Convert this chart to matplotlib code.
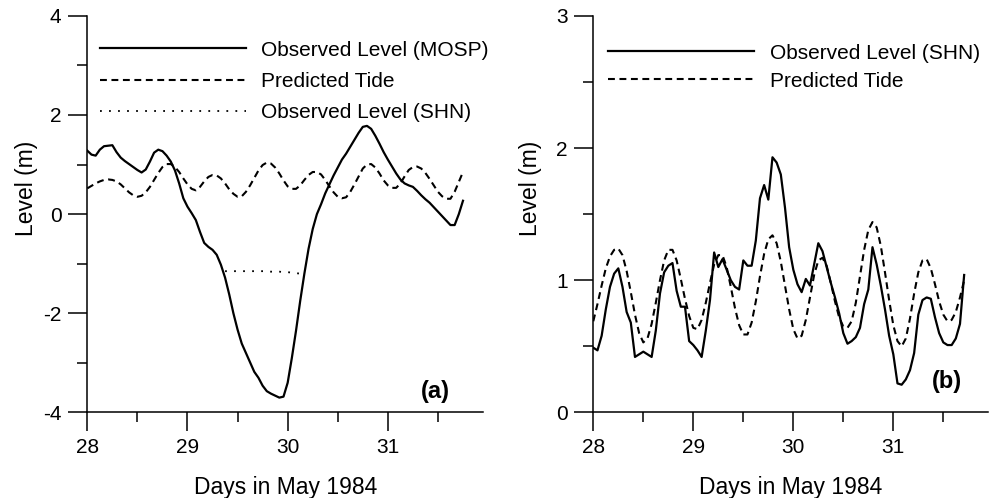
import numpy as np
import matplotlib
matplotlib.use("Agg")
import matplotlib.pyplot as plt
from matplotlib.ticker import MultipleLocator

plt.rcParams['font.family'] = ['Liberation Sans', 'DejaVu Sans']
plt.rcParams['axes.unicode_minus'] = False

# hourly samples starting 28 May 1984 00:00
# (a) MOSP station
mosp_obs = [1.28, 1.20, 1.18, 1.30, 1.37, 1.38, 1.39, 1.25, 1.14, 1.07,
            1.01, 0.95, 0.89, 0.84, 0.90, 1.06, 1.24, 1.30, 1.27, 1.18,
            1.06, 0.88, 0.62, 0.32, 0.15, 0.02, -0.12, -0.36, -0.58, -0.66,
            -0.72, -0.82, -1.02, -1.28, -1.62, -2.00, -2.33, -2.61, -2.80, -2.99,
            -3.18, -3.30, -3.46, -3.57, -3.62, -3.66, -3.70, -3.68, -3.40, -2.90,
            -2.35, -1.75, -1.20, -0.70, -0.30, 0.00, 0.20, 0.42, 0.60, 0.78,
            0.94, 1.10, 1.22, 1.36, 1.50, 1.64, 1.76, 1.78, 1.72, 1.58,
            1.42, 1.25, 1.10, 0.96, 0.82, 0.70, 0.62, 0.58, 0.55, 0.47,
            0.38, 0.30, 0.23, 0.14, 0.05, -0.04, -0.13, -0.22, -0.22, 0.00,
            0.27]
mosp_tide = [0.52, 0.57, 0.62, 0.66, 0.69, 0.70, 0.69, 0.66, 0.60, 0.52,
             0.44, 0.38, 0.35, 0.37, 0.44, 0.55, 0.69, 0.83, 0.95, 1.01,
             1.01, 0.95, 0.85, 0.72, 0.60, 0.51, 0.48, 0.55, 0.66, 0.75,
             0.79, 0.78, 0.72, 0.62, 0.50, 0.41, 0.35, 0.36, 0.45, 0.58,
             0.73, 0.88, 0.99, 1.04, 1.02, 0.94, 0.82, 0.68, 0.56, 0.51,
             0.51, 0.58, 0.69, 0.79, 0.85, 0.85, 0.80, 0.69, 0.56, 0.44,
             0.35, 0.32, 0.34, 0.45, 0.60, 0.76, 0.92, 1.00, 1.01, 0.94,
             0.82, 0.68, 0.58, 0.53, 0.53, 0.62, 0.76, 0.89, 0.95, 0.96,
             0.92, 0.83, 0.71, 0.58, 0.45, 0.36, 0.31, 0.31, 0.45, 0.65,
             0.85]
# SHN level shown on (a) only while MOSP gauge was below it
shn_start = 33  # hour index
shn_low = [-1.15, -1.15, -1.15, -1.15, -1.15, -1.15, -1.15, -1.15, -1.15, -1.15,
           -1.15, -1.16, -1.16, -1.16, -1.17, -1.17, -1.18, -1.19, -1.20]

# (b) SHN station
shn_obs = [0.49, 0.47, 0.58, 0.78, 0.95, 1.05, 1.09, 0.95, 0.76, 0.68,
           0.42, 0.44, 0.46, 0.44, 0.42, 0.62, 0.90, 1.06, 1.11, 1.13,
           0.92, 0.80, 0.80, 0.54, 0.51, 0.47, 0.42, 0.62, 0.85, 1.21,
           1.10, 1.16, 1.08, 1.00, 0.95, 0.93, 1.15, 1.11, 1.11, 1.30,
           1.62, 1.72, 1.61, 1.93, 1.89, 1.80, 1.55, 1.25, 1.08, 0.97,
           0.91, 1.01, 0.96, 1.12, 1.28, 1.22, 1.10, 0.98, 0.87, 0.75,
           0.60, 0.52, 0.54, 0.57, 0.64, 0.82, 0.93, 1.25, 1.12, 0.96,
           0.78, 0.58, 0.44, 0.22, 0.21, 0.25, 0.32, 0.45, 0.74, 0.85,
           0.87, 0.86, 0.72, 0.60, 0.53, 0.51, 0.51, 0.56, 0.67, 1.04]
shn_tide = [0.69, 0.82, 0.96, 1.09, 1.18, 1.23, 1.24, 1.19, 1.07, 0.91,
            0.74, 0.60, 0.53, 0.56, 0.67, 0.83, 1.00, 1.15, 1.23, 1.23,
            1.15, 1.01, 0.86, 0.73, 0.64, 0.63, 0.70, 0.83, 0.98, 1.12,
            1.19, 1.19, 1.10, 0.95, 0.79, 0.66, 0.59, 0.59, 0.68, 0.84,
            1.03, 1.20, 1.31, 1.34, 1.28, 1.14, 0.96, 0.78, 0.63, 0.56,
            0.58, 0.70, 0.87, 1.04, 1.15, 1.17, 1.11, 0.98, 0.84, 0.72,
            0.65, 0.64, 0.69, 0.83, 1.03, 1.23, 1.38, 1.44, 1.40, 1.26,
            1.06, 0.85, 0.66, 0.54, 0.50, 0.56, 0.71, 0.90, 1.06, 1.15,
            1.16, 1.09, 0.97, 0.84, 0.74, 0.69, 0.70, 0.76, 0.87, 1.00]

day0 = 28
t_a = day0 + np.arange(len(mosp_obs)) / 24
t_shn_low = day0 + (shn_start + np.arange(len(shn_low))) / 24
t_b = day0 + np.arange(len(shn_obs)) / 24

dash = (0, (3.3, 2.2))
dot = (0, (1.0, 4.0))
fs = 15
lfs = 16.5

fig = plt.figure(figsize=(9.9, 4.98), dpi=100)
ax1 = fig.add_axes([0.0882, 0.1717, 0.3997, 0.7966])
ax2 = fig.add_axes([0.5993, 0.1717, 0.3990, 0.7966])

ax1.plot(t_a, mosp_obs, 'k-', lw=1.6, label="Observed Level (MOSP)")
ax1.plot(t_a, mosp_tide, 'k', ls=dash, lw=1.5, label="Predicted Tide")
ax1.plot(t_shn_low, shn_low, 'k', ls=dot, lw=1.3, label="Observed Level (SHN)")
ax1.set_ylim(-4, 4)
ax1.yaxis.set_major_locator(MultipleLocator(2))
ax1.yaxis.set_minor_locator(MultipleLocator(1))

ax2.plot(t_b, shn_obs, 'k-', lw=1.6, label="Observed Level (SHN)")
ax2.plot(t_b, shn_tide, 'k', ls=dash, lw=1.5, label="Predicted Tide")
ax2.set_ylim(0, 3)
ax2.yaxis.set_major_locator(MultipleLocator(1))
ax2.yaxis.set_minor_locator(MultipleLocator(0.5))

for ax, tag, tx, ty in [(ax1, "(a)", 0.917, 0.052), (ax2, "(b)", 0.933, 0.077)]:
    ax.set_xlim(28, 31.95)
    ax.xaxis.set_major_locator(MultipleLocator(1))
    ax.xaxis.set_minor_locator(MultipleLocator(0.5))
    for s in ['top', 'right']:
        ax.spines[s].set_visible(False)
    for s in ['left', 'bottom']:
        ax.spines[s].set_linewidth(1.1)
    ax.tick_params(which='major', direction='out', length=13.5, width=1.1,
                   labelsize=fs, pad=5)
    ax.tick_params(which='minor', direction='out', length=7, width=1.1)
    ax.set_xlabel("Days in May 1984", fontsize=lfs)
    ax.set_ylabel("Level (m)", fontsize=lfs)
    ax.xaxis.set_label_coords(0.5, -0.16)
    ax.text(tx, ty, tag, transform=ax.transAxes, fontsize=17, fontweight='bold',
            ha='right', va='center')

leg_kw = dict(loc='upper left', frameon=False, fontsize=fs, handlelength=7.0,
              handletextpad=0.75, borderpad=0, borderaxespad=0)
ax1.legend(labelspacing=0.58, bbox_to_anchor=(0.032, 0.937), **leg_kw)
ax2.legend(labelspacing=0.44, bbox_to_anchor=(0.038, 0.93), **leg_kw)

ax1.yaxis.set_label_coords(-0.125, 0.565)
ax2.yaxis.set_label_coords(-0.13, 0.565)

fig.savefig("out.png", dpi=100)
